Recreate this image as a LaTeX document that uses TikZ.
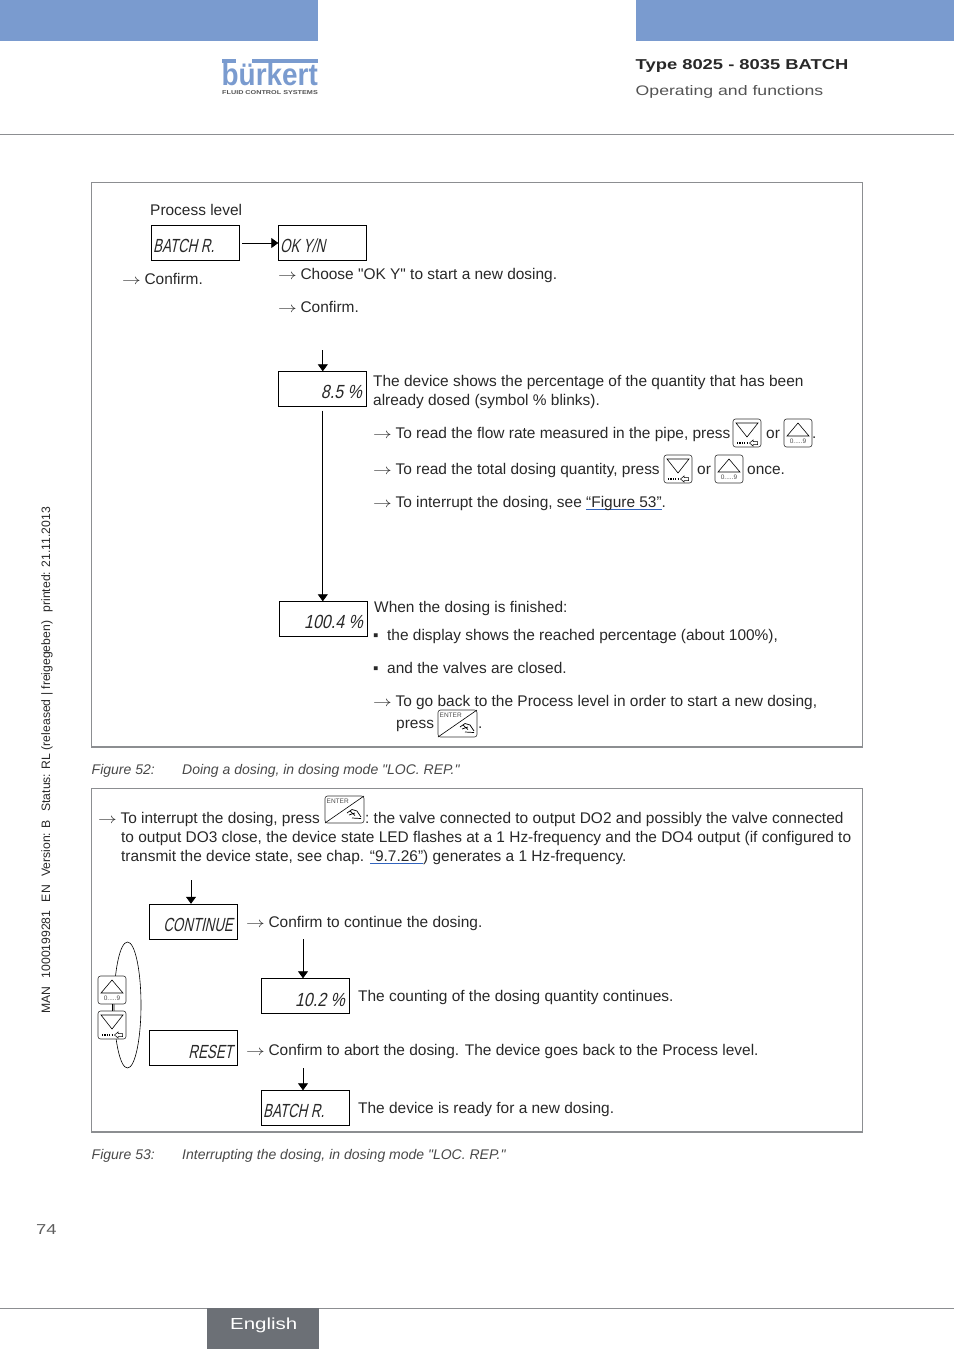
\documentclass[tikz,border=0pt]{standalone}
\usepackage{fontspec}
\usepackage{xcolor}
\usepackage{tikz}
\usetikzlibrary{arrows.meta,positioning}
\setmainfont[Ligatures=TeXOff]{Liberation Sans}
\newfontfamily\lcdfont[FakeSlant=0.22,FakeStretch=0.7]{Liberation Sans}
\newfontfamily\lcdnumfont[FakeSlant=0.22,FakeStretch=0.84]{Liberation Sans}
\newfontfamily\widefont[FakeStretch=1.28]{Liberation Sans}
\newfontfamily\logofont[FakeStretch=0.9]{Liberation Sans}
\definecolor{burkertblue}{RGB}{122,155,207}
\definecolor{framegray}{RGB}{140,142,145}
\definecolor{footgray}{RGB}{108,112,118}
\definecolor{bodyblack}{RGB}{40,40,40}
\definecolor{linkblue}{RGB}{50,100,190}
\newcommand{\toarrow}{\scalebox{1.3}[1]{$\rightarrow$}\hspace{3.6pt}}
\newcommand{\linkword}[1]{\setbox0\hbox{#1}\rlap{\color{linkblue}\rule[-3pt]{\wd0}{1.1pt}}\box0}

\begin{document}
\begin{tikzpicture}[
    x=1pt, y=-1pt,
    txt/.style={anchor=base west, inner sep=0pt, align=left, text=bodyblack, font=\fontsize{15.45}{19}\selectfont},
    figcap/.style={anchor=base west, inner sep=0pt, text=bodyblack!85, font=\fontsize{14}{16}\selectfont\itshape},
    lcd/.style={draw, thin, inner sep=0pt, minimum width=88pt, minimum height=35pt},
    seg/.style={inner sep=0pt, text=bodyblack, font=\fontsize{19}{20}\lcdfont},
    segnum/.style={inner sep=0pt, text=bodyblack, font=\fontsize{19}{20}\lcdnumfont},
    flow/.style={-{Triangle[length=7pt,width=10pt]}, line width=0.8pt},
    keyline/.style={draw=black!80, line width=0.6pt, fill=white, rounded corners=2.5pt},
    keylab/.style={inner sep=0pt, text=black!70, font=\fontsize{6.5}{7}\selectfont},
    upkey/.pic={
        \draw[keyline] (0,0) rectangle (28,28);
        \draw[line width=0.6pt] (3,17) -- (14,4) -- (25,17) -- cycle;
        \node[keylab] (lab) at (14,22.5) {0.....9};
        \coordinate (bot) at (14,28);
    },
    downkey/.pic={
        \draw[keyline] (0,0) rectangle (28,28);
        \draw[line width=0.6pt] (3,4) -- (25,4) -- (14,18) -- cycle;
        \draw[line width=1.6pt, dash pattern=on 1.2pt off 1.2pt] (4,24) -- (15,24);
        \draw[line width=0.5pt] (24.5,22.5) -- (20,22.5) -- (20,21) -- (16.5,24) -- (20,27) -- (20,25.5) -- (24.5,25.5) -- cycle;
        \coordinate (top) at (14,0);
    },
    enterkey/.pic={
        \draw[keyline] (0,0) rectangle (39,27);
        \draw[line width=0.6pt] (0,27) -- (39,0);
        \node[keylab, anchor=west] (lab) at (1.5,5) {ENTER};
        \draw[line width=0.7pt] (22,17) -- (27,13.5) -- (32,15) -- (36,21) (24,19) -- (30,17) (27,22) -- (36,22.5) (25,15) -- (30,19.5);
    },
]
\useasboundingbox (0,0) rectangle (954,1350);

\fill[burkertblue] (0,0) rectangle (318,41);
\fill[burkertblue] (636,0) rectangle (954,41);
\fill[burkertblue] (222,59) rectangle (236,63);
\fill[burkertblue] (252,59) rectangle (318,63);
\node[anchor=base west, inner sep=0pt, text=burkertblue, font=\fontsize{31}{32}\logofont\bfseries] (logo) at (221.5,85) {bürkert};
\node[anchor=base west, inner sep=0pt, text=bodyblack!80, font=\fontsize{5.65}{7}\widefont\bfseries] (logosub) at (222,94) {FLUID CONTROL SYSTEMS};
\node[anchor=base west, inner sep=0pt, text=bodyblack, font=\fontsize{14.35}{16}\widefont\bfseries] (type) at (635.5,69) {Type 8025 - 8035 BATCH};
\node[anchor=base west, inner sep=0pt, text=bodyblack!80, font=\fontsize{13.8}{16}\widefont] (opfun) at (635.5,95) {Operating and functions};
\draw[framegray] (0,134.5) -- (954,134.5);

\node[anchor=base west, inner sep=0pt, rotate=90, text=bodyblack, font=\fontsize{12.2}{13}\selectfont] (margin) at (50,1014) {MAN\hspace{5pt} 1000199281\hspace{5pt} EN\hspace{5pt} Version: B\hspace{5pt} Status: RL (released | freigegeben)\hspace{5pt} printed: 21.11.2013};

\draw[framegray, line width=0.6pt] (91.5,182.5) rectangle (862,747);
\draw[framegray, line width=1.6pt] (91.5,747) -- (862,747);

\node[txt] (proc) at (150,215) {Process level};
\node[lcd] (batch) at (195,243) {};
\node[seg, anchor=base west] (batchtxt) at (153,252) {BATCH R.};
\node[lcd] (oky) at (322.5,243) {};
\node[seg, anchor=base west] (okytxt) at (280,252) {OK Y/N};
\draw[flow] (batch.east) ++(3,0) -- (oky.west);
\node[txt] (conf1) at (122,284) {\toarrow Confirm.};
\node[txt] (choose) at (278,279) {\toarrow Choose "OK Y" to start a new dosing.};
\node[txt] (conf2) at (278,312) {\toarrow Confirm.};

\coordinate (pcttop) at (322.8,350);
\node[lcd] (pct) at (322.5,389) {};
\node[segnum, anchor=base east] (pcttxt) at (362,398) {8.5 \%};
\draw[flow] (pcttop) -- (pcttop |- pct.north);
\node[lcd] (pctend) at (323,619) {};
\node[segnum, anchor=base east] (pctendtxt) at (363,628) {100.4 \%};
\draw[flow, shorten <=4pt] (pcttop |- pct.south) -- (pcttop |- pctend.north);

\node[txt] (shows) at (373,405) {The device shows the percentage of the quantity that has been\\already dosed (symbol \% blinks).};
\node[txt] (flowrate) at (373,438) {\toarrow To read the flow rate measured in the pipe, press};
\pic (keya) at (733,419) {downkey};
\node[txt] (ora) at (766,438) {or};
\pic (keyb) at (784,419) {upkey};
\node[txt] (dota) at (812,438) {.};
\node[txt] (total) at (373,474) {\toarrow To read the total dosing quantity, press};
\pic (keyc) at (664,455) {downkey};
\node[txt] (orb) at (697,474) {or};
\pic (keyd) at (715,455) {upkey};
\node[txt] (once) at (747,474) {once.};
\node[txt] (inter) at (373,507) {\toarrow To interrupt the dosing, see \linkword{“Figure 53”}.};

\node[txt] (finish) at (374,612) {When the dosing is finished:};
\node[txt] (bula) at (373,640) {▪};
\node[txt] (reach) at (387,640) {the display shows the reached percentage (about 100\%),};
\node[txt] (bulb) at (373,673) {▪};
\node[txt] (closed) at (387,673) {and the valves are closed.};
\node[txt] (goback) at (373,706) {\toarrow To go back to the Process level in order to start a new dosing,};
\node[txt] (press) at (396,728) {press};
\pic (keye) at (438,710) {enterkey};
\node[txt] (dotb) at (478,728) {.};

\node[figcap] (figa) at (91.5,774) {Figure 52:};
\node[figcap] (figatxt) at (182,774) {Doing a dosing, in dosing mode "LOC. REP."};

\draw[framegray, line width=0.6pt] (91.5,788.5) rectangle (862,1132);
\draw[framegray, line width=1.6pt] (91.5,1132) -- (862,1132);

\node[txt] (interb) at (98,823) {\toarrow To interrupt the dosing, press};
\pic (keyf) at (325,796) {enterkey};
\node[txt] (valve) at (365,823) {:\kern-1.5pt{} the valve connected to output DO2 and possibly the valve connected};
\node[txt] (output) at (121,861) {to output DO3 close, the device state LED flashes at a 1 Hz-frequency and the DO4 output (if configured to\\transmit the device state, see chap. \linkword{“9.7.26”}) generates a 1 Hz-frequency.};

\coordinate (conttop) at (191,880);
\node[lcd] (cont) at (193,921.5) {};
\node[seg, anchor=base east] (conttxt) at (233,931) {CONTINUE};
\draw[flow] (conttop) -- (conttop |- cont.north);
\node[txt] (confc) at (246,927) {\toarrow Confirm to continue the dosing.};

\coordinate (counttop) at (303,939);
\node[lcd] (count) at (305,996) {};
\node[segnum, anchor=base east] (counttxt) at (345,1006) {10.2 \%};
\draw[flow] (counttop) -- (counttop |- count.north);
\node[txt] (counting) at (358,1001) {The counting of the dosing quantity continues.};

\node[lcd] (reset) at (193,1048) {};
\node[seg, anchor=base east] (resettxt) at (233,1058) {RESET};
\node[txt] (confd) at (246,1055) {\toarrow Confirm to abort the dosing. The device goes back to the Process level.};

\coordinate (readytop) at (303,1068);
\node[lcd] (ready) at (305,1108) {};
\node[seg, anchor=base west] (readytxt) at (263,1117) {BATCH R.};
\draw[flow] (readytop) -- (readytop |- ready.north);
\node[txt] (readyb) at (358,1113) {The device is ready for a new dosing.};

\draw[line width=0.6pt] (127.5,1005) ellipse (13.5 and 63);
\pic (keyup) at (98,976) {upkey};
\pic (keydn) at (98,1011) {downkey};
\draw[line width=0.6pt] (keyupbot) -- (keydntop);

\node[figcap] (figb) at (91.5,1159) {Figure 53:};
\node[figcap] (figbtxt) at (182,1159) {Interrupting the dosing, in dosing mode "LOC. REP."};

\node[anchor=base west, inner sep=0pt, text=bodyblack!75, font=\fontsize{14.4}{16}\widefont] (pageno) at (36,1234) {74};
\draw[framegray] (0,1308.5) -- (954,1308.5);
\fill[footgray] (207,1308) rectangle (319,1349);
\node[anchor=base west, inner sep=0pt, text=white, font=\fontsize{16}{18}\widefont] (lang) at (230,1329) {English};
\end{tikzpicture}
\end{document}
